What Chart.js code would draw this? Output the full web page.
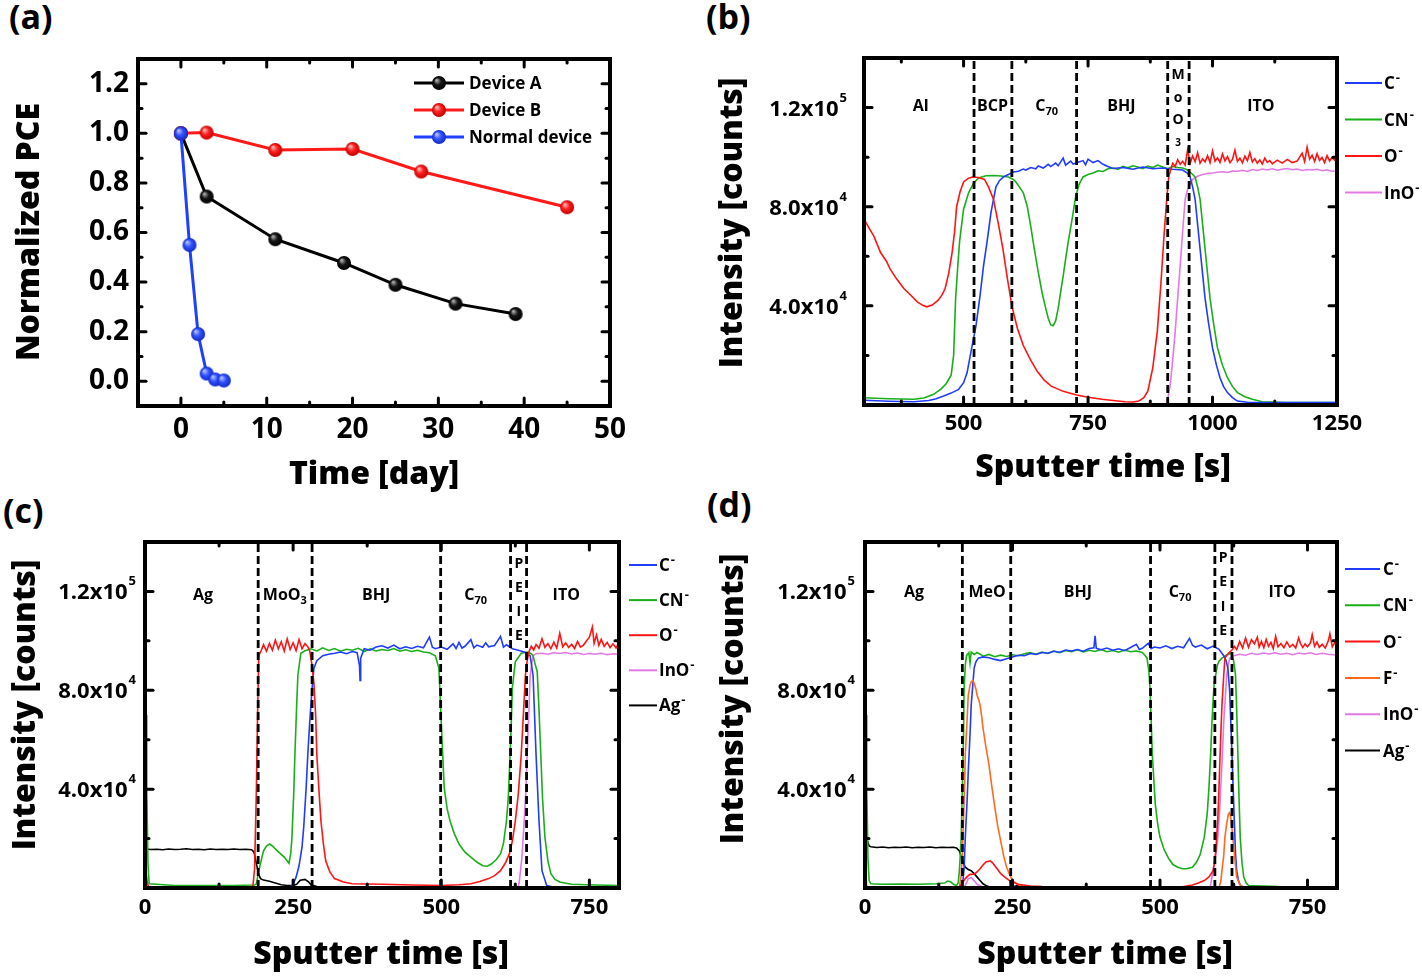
<!DOCTYPE html>
<html>
<head>
<meta charset="utf-8">
<script src="https://cdn.jsdelivr.net/npm/chart.js@4.4.1/dist/chart.umd.min.js"></script>
<style>
  body { margin: 0; background: #fff; width: 1422px; height: 976px; position: relative; overflow: hidden; }
  canvas { position: absolute; left: 0; top: 0; }
  .tag { position: absolute; font: bold 34px 'Open Sans'; line-height: 34px; color: #000; }
</style>
</head>
<body>
<div class="tag" style="left:9px;top:-1px">(a)</div>
<div class="tag" style="left:706px;top:-1px">(b)</div>
<div class="tag" style="left:3px;top:493px">(c)</div>
<div class="tag" style="left:707px;top:487px">(d)</div>
<canvas id="chartA" width="1422" height="976"></canvas>
<canvas id="chartB" width="1422" height="976"></canvas>
<canvas id="chartC" width="1422" height="976"></canvas>
<canvas id="chartD" width="1422" height="976"></canvas>
<script>
// ---- (a) normalized PCE vs time ----
var aDaysA = [0, 3, 11, 19, 25, 32, 39];
var aPceA = [1.0, 0.745, 0.573, 0.477, 0.389, 0.313, 0.271];
var aDaysB = [0, 3, 11, 20, 28, 45];
var aPceB = [1.0, 1.003, 0.933, 0.937, 0.846, 0.702];
var aDaysN = [0, 1, 2, 3, 4, 5];
var aPceN = [1.0, 0.55, 0.19, 0.031, 0.007, 0.003];
var aXLabels = [0, 10, 20, 30, 40, 50];
var aYLabels = [0, 0.2, 0.4, 0.6, 0.8, 1.0, 1.2];

// ---- (b) ToF-SIMS profile, Al device. [time s, counts /1000] ----
var bBounds = [521, 597, 727, 910, 953];
var bLayerNames = ['Al', 'BCP', 'C_70', 'BHJ', 'ITO'];
var bLayerAt = [414, 558, 667, 817, 1097];
var bStack = ['M', 'o', 'O', '3'];
var bC = [[300,1.9],[350,1.5],[400,1.3],[430,1.8],[445,2.5],[460,3.6],[475,4.8],[490,6.3],[500,9],[507,13],[515,21.6],[525,32],[533,44],[540,56],[548,67],[555,77.6],[565,88],[572,90.5],[580,92],[590,93],[600,94],[610,94.3],[620,95.2],[625,94.8],[635,95.8],[645,95.3],[650,96.4],[660,95.6],[670,97.1],[675,96.2],[685,97.6],[690,96.5],[700,99.6],[705,96.8],[715,98.4],[720,97.2],[730,97.9],[740,98.6],[745,96.9],[750,99.2],[760,97.8],[770,98.6],[780,97.1],[790,96.2],[800,95.4],[820,95.8],[840,95.1],[860,96],[880,95.3],[900,95.6],[920,95.1],[940,94.8],[950,93.5],[955,92],[960,88],[965,83],[970,73],[975,63],[980,53],[985,43],[992,33],[1000,23],[1008,16],[1015,11],[1022,7.5],[1030,5],[1040,3],[1050,1.6],[1070,1.1],[1100,1],[1250,1]];
var bCN = [[300,2.9],[350,2.5],[400,2.3],[420,2.8],[440,4.3],[455,6.5],[465,8.6],[475,12],[480,20],[484,43],[488,55],[492,66],[500,79],[510,85.6],[520,89.5],[530,91.6],[545,92.5],[560,92.6],[575,92.4],[590,92],[600,91],[605,90],[612,88],[620,85.6],[628,80],[635,72],[642,63],[650,53.6],[658,45],[665,39],[670,35],[675,32.3],[680,32],[685,34],[690,39],[695,45.6],[700,52],[705,59],[710,65.6],[718,75],[725,84],[732,89],[740,92],[750,93],[760,93.6],[770,94.5],[780,94.2],[790,95.3],[800,95.6],[810,95.1],[820,96.3],[830,95.7],[840,96.5],[850,96],[860,95.4],[870,96.4],[880,95.8],[890,96.8],[900,96],[910,95.3],[920,96.2],[930,95.8],[940,95.6],[948,95],[955,94],[960,93],[965,92],[970,88],[975,83],[980,73],[985,63],[990,53],[995,43],[1002,33],[1010,23],[1020,16],[1030,11],[1040,7.5],[1050,5],[1065,3.3],[1080,2.3],[1100,1.3],[1150,1],[1250,1]];
var bO = [[300,75],[310,71.5],[320,68],[333,61.6],[345,58],[352,55],[365,51],[380,47],[393,44.5],[407,41.6],[418,40.2],[426,39.6],[437,40.3],[449,42.3],[457,44.5],[463,47],[470,53],[477,61.6],[482,70],[486,80],[493,86],[500,90],[510,91.5],[518,92],[530,91.8],[542,91],[550,88],[560,83],[570,73],[579,63],[588,51],[597,40],[608,31],[620,24],[635,18],[648,13.6],[662,10],[676,7.6],[700,5.5],[727,4],[750,3.1],[778,2.3],[800,1.8],[824,1.3],[840,1.2],[852,1.6],[862,3],[870,5.6],[880,15],[889,29.6],[896,48],[903,69.6],[908,83],[912,92],[916,95],[920,97.5],[925,96.2],[930,99],[935,97.1],[940,98.3],[945,96.8],[950,103],[955,97.5],[960,100.5],[965,98.2],[970,101.8],[975,97.6],[980,99.3],[985,98.1],[990,100.6],[995,97.8],[1000,102.5],[1005,98.4],[1010,99.7],[1015,97.9],[1020,101.3],[1025,98.5],[1030,100.2],[1035,97.8],[1040,99.1],[1045,102.8],[1050,98.3],[1055,99.6],[1060,97.7],[1065,100.4],[1070,98.6],[1075,101.9],[1080,98.1],[1085,99.4],[1090,97.5],[1095,98.9],[1100,97.2],[1105,99.6],[1110,97.9],[1115,98.6],[1120,97.3],[1130,98.8],[1140,97.6],[1150,99.1],[1160,97.8],[1170,98.4],[1180,101.6],[1185,98.2],[1190,104],[1195,99.2],[1200,100.8],[1205,98.3],[1210,101.4],[1215,98.7],[1220,99.9],[1225,97.8],[1230,100.6],[1235,98.5],[1240,99.8],[1245,98.9],[1250,97.5]];
var bInO = [[908,0.3],[915,8],[920,18],[925,29.6],[930,43],[935,56],[940,70],[945,83],[950,87],[955,89],[960,91],[970,92.3],[980,93],[990,93.4],[1000,93.6],[1010,93.9],[1020,94.1],[1030,93.8],[1040,94.4],[1050,94.3],[1060,94.7],[1070,94.2],[1080,95],[1090,94.6],[1100,95.2],[1110,94.8],[1120,95.3],[1130,94.7],[1140,95.1],[1150,95.4],[1160,94.9],[1170,95.2],[1180,94.6],[1190,95],[1200,94.8],[1210,95.1],[1220,94.5],[1230,94.9],[1240,94.3],[1250,94.5]];

// ---- (c) ToF-SIMS profile, Ag / MoO3 device ----
var cBounds = [191, 282, 499, 617, 644];
var cLayerNames = ['Ag', 'MoO_3', 'BHJ', 'C_70', 'ITO'];
var cLayerAt = [98, 236, 390, 558, 711];
var cStack = ['P', 'E', 'I', 'E'];
var cC = [[0,0.5],[100,0.4],[200,0.3],[245,0.5],[250,1.5],[255,4.4],[260,9],[265,16.5],[268,25],[272,40.6],[275,55],[278,67],[282,80.8],[285,88.8],[290,92],[300,94],[310,94.6],[320,95],[330,95.5],[340,94.8],[350,95.7],[358,95.2],[362,90],[363,84],[364,93],[370,96.8],[380,96.2],[390,97.5],[400,98],[410,97.1],[420,98.3],[430,96.8],[440,97.6],[450,96.9],[460,97.8],[470,97.2],[480,101.5],[485,97.4],[490,96.8],[500,97.5],[510,96.6],[520,98.8],[525,96.9],[530,99.4],[535,97.1],[540,97.8],[550,100.5],[555,97.2],[560,98.3],[570,97.4],[575,99.2],[580,97.6],[590,98.1],[600,101.8],[605,97.5],[610,98.4],[620,96.8],[630,96.2],[640,95.5],[650,94],[655,86],[660,54],[665,27],[670,7],[678,1],[690,0.3],[800,0.3]];
var cCN = [[0,95.5],[2,70],[3,40],[5,10],[7,1.7],[50,1],[100,1],[150,1],[185,1.2],[188,1.7],[192,7],[196,11],[200,15],[205,17],[210,17.8],[215,17],[220,15.8],[228,14],[235,12.5],[243,10],[246,14],[248,20.5],[251,38],[253,54],[256,74],[258,86],[263,95],[270,96],[280,96.8],[290,95.9],[300,97.2],[310,96.1],[320,96.9],[330,95.8],[340,96.6],[350,96.2],[360,97],[370,95.7],[380,96.8],[390,95.9],[400,96.5],[410,96.1],[420,96.9],[430,95.8],[440,96.4],[450,95.7],[460,96.2],[470,95.5],[480,95.2],[490,94],[496,89],[500,67],[505,40.6],[510,32],[515,27],[522,22],[530,17.8],[540,14.5],[550,12.5],[560,10.5],[570,9],[578,8.8],[585,9.8],[593,11.5],[600,13.8],[605,18],[610,27],[613,36],[615,47],[618,65],[620,81],[625,91.5],[635,95],[645,95.5],[652,94.8],[655,94],[658,91],[662,87.5],[665,72],[668,54],[671,36],[675,20.5],[680,11],[685,5.8],[692,3.5],[700,2.4],[720,1.5],[760,1.2],[800,1]];
var cO = [[0,0.5],[1,4],[2,5.8],[4,2],[6,0.4],[100,0.3],[182,0.4],[185,8],[188,40],[190,70],[192,94],[196,96],[200,98.5],[205,95.8],[210,99],[215,96.2],[220,100.3],[225,96.8],[230,99.6],[235,95.9],[240,100.8],[245,96.5],[250,99.2],[255,96],[260,100.5],[265,96.8],[270,98.9],[275,97.5],[278,96],[282,90],[285,83],[288,70],[290,54],[294,38],[297,27],[301,18],[305,11],[312,6.5],[320,3.8],[335,2.4],[350,1.7],[400,1.5],[450,1.2],[500,1],[530,1.3],[550,1.7],[565,2.6],[580,3.8],[590,5],[600,7],[608,10],[615,13.8],[620,19],[625,27],[630,38],[635,54],[639,72],[642,86],[645,92],[648,95.5],[652,97.8],[656,96.3],[660,98.5],[665,97],[670,100.8],[675,97.4],[680,98.9],[685,96.8],[690,99.5],[695,97.1],[700,103],[705,97.6],[710,99.2],[715,97.3],[720,98.6],[725,96.9],[730,99.8],[735,97.5],[740,98.3],[745,99.9],[750,101.5],[755,105.6],[758,99],[762,102.4],[766,98.2],[770,100.6],[775,97.8],[780,99.4],[785,97.3],[790,98.8],[795,97.1],[800,99.5]];
var cInO = [[0,0.3],[1,2.4],[3,0.5],[5,0.2],[300,0.2],[630,0.5],[632,3],[636,12],[640,27],[643,40],[645,54],[648,72],[650,86],[655,94],[660,94.8],[670,95],[680,94.6],[690,95.2],[700,94.9],[710,95.3],[720,94.7],[730,95.1],[740,94.5],[750,94.9],[760,94.6],[770,95],[780,94.4],[790,94.8],[800,94.6]];
var cAg = [[0,15.8],[10,15.6],[20,15.7],[30,15.5],[40,15.8],[50,15.6],[60,15.7],[70,15.9],[80,15.6],[90,15.7],[100,15.5],[110,15.8],[120,15.6],[130,15.7],[140,15.6],[150,15.8],[160,15.6],[170,15.7],[180,15.5],[184,14.5],[188,9.8],[192,5.5],[195,3.8],[200,3.2],[210,2.7],[220,2],[230,1.3],[240,1],[250,1],[256,1.5],[262,3.1],[270,3.5],[276,2.5],[280,1.3],[290,0.6],[300,0.5],[400,0.4],[500,0.3],[800,0.3]];

// ---- (d) ToF-SIMS profile, Ag / MeO device ----
var dBounds = [165, 247, 484, 593, 622];
var dLayerNames = ['Ag', 'MeO', 'BHJ', 'C_70', 'ITO'];
var dLayerAt = [83, 207, 361, 534, 707];
var dStack = ['P', 'E', 'I', 'E'];
var dC = [[0,0.3],[100,0.3],[160,0.3],[165,0.6],[168,8],[170,20.5],[173,35],[175,47],[178,62],[180,74],[183,83],[185,89],[188,91.5],[192,93],[200,93.5],[210,93.2],[220,92.5],[230,92],[240,92.8],[250,93.5],[260,94.2],[270,94],[280,94.9],[290,94.5],[300,95.3],[310,95],[320,95.8],[330,95.4],[340,96.3],[350,95.9],[360,96.5],[370,95.8],[380,96.9],[388,97.2],[390,102],[392,97],[400,96.4],[410,97.1],[420,96.2],[430,96.8],[440,96],[450,97.3],[460,98.6],[465,96.5],[470,97],[480,99],[485,96.8],[490,97.5],[500,97.1],[510,98],[520,96.9],[530,97.8],[540,97.2],[550,101],[555,98.2],[560,97.5],[570,98.3],[580,96.8],[590,97.9],[600,96.6],[608,94],[612,92],[615,89],[618,80],[620,67],[622,54],[624,40.6],[626,27],[628,13.8],[630,7],[633,3],[636,1.2],[640,0.5],[800,0.3]];
var dCN = [[0,93],[2,70],[3,40],[5,12],[7,3],[10,1.7],[30,1.5],[60,1.6],[90,1.5],[120,1.7],[135,2],[140,2.8],[145,2.5],[150,1.5],[155,1],[158,2],[160,7],[163,20],[165,40],[167,62],[168,80.8],[170,90],[172,94],[176,95.2],[178,91],[180,95.5],[185,94.5],[190,95.3],[195,94.6],[200,93.8],[210,94.5],[220,93.6],[230,94.2],[240,93.7],[250,94.4],[260,94],[270,94.8],[280,95.3],[290,94.6],[300,95.5],[310,94.9],[320,95.9],[330,95.2],[340,96.1],[350,95.6],[360,96.4],[370,95.5],[380,96.2],[390,95.7],[400,96.5],[410,95.6],[420,96.1],[430,95.4],[440,96.3],[450,95.6],[460,95.9],[470,95.3],[475,94],[478,93],[481,88],[483,81],[485,68],[487,54],[490,42],[492,34],[496,26],[500,20.5],[507,15.5],[515,11.8],[522,9.5],[530,8.4],[538,7.8],[545,7.8],[555,8.4],[562,10.5],[568,13.5],[575,20.5],[580,30],[583,40.6],[586,55],[588,67],[590,76],[592,83.5],[595,87],[597,90],[600,91.8],[605,93],[612,94.2],[620,95],[624,93],[626,90],[628,86],[630,72],[632,54],[634,36],[636,20.5],[639,10],[642,4.4],[646,2],[650,1],[700,0.6],[800,0.5]];
var dO = [[0,0.3],[150,0.3],[160,0.6],[165,2],[170,3.8],[175,5],[178,5.5],[185,5.6],[190,6.5],[195,7.8],[200,9.3],[205,10.5],[212,11],[216,10.3],[220,9],[225,7.5],[230,5.8],[238,4.2],[245,3],[252,2.2],[260,1.5],[280,0.8],[300,0.6],[500,0.4],[540,0.6],[555,1.2],[565,2],[575,3],[583,4.5],[590,7],[593,11],[595,16.5],[598,28],[600,40.6],[602,55],[605,74],[608,86],[610,93],[616,95],[622,96.3],[626,97.8],[630,96.5],[635,99.8],[640,97.1],[645,101.2],[650,97.4],[655,100.5],[660,98.8],[665,101.5],[668,97.5],[672,99.8],[676,97.2],[680,100.6],[684,97.8],[688,99.4],[692,96.9],[696,101.8],[700,97.6],[705,98.9],[710,97.2],[715,99.6],[720,97.5],[725,98.6],[730,97.1],[735,101.2],[738,99],[742,97.3],[746,98.8],[750,97.6],[755,99.2],[758,102.5],[762,97.8],[766,99.5],[770,97.4],[775,98.6],[780,97.1],[785,99.8],[788,102.8],[792,97.6],[796,99.2],[800,98.1]];
var dF = [[0,0.2],[155,0.2],[160,0.5],[163,5],[165,13.8],[168,35],[170,54],[173,68],[175,78],[178,82],[180,83.5],[183,84],[185,82.8],[188,80.5],[190,78],[193,76],[195,74],[198,69],[200,64.7],[205,57],[210,50],[215,41],[220,32.6],[225,25],[230,19],[235,13],[240,8.4],[245,5.5],[250,3],[258,1.5],[265,0.8],[300,0.3],[600,0.3],[603,2.5],[605,7],[608,13],[610,20.5],[613,26],[616,30],[618,30.5],[620,28.5],[622,24],[625,16.5],[628,9],[630,4.4],[635,1.5],[640,0.3],[800,0.2]];
var dInO = [[0,11],[1,6],[3,1],[5,0.2],[165,0.2],[170,1],[175,3.8],[180,4.2],[185,3],[190,1.5],[200,0.3],[585,0.3],[590,7],[595,14],[598,20.5],[601,31],[603,40.6],[606,55],[608,67],[611,78],[613,86],[618,93],[625,94],[635,94.6],[645,94.2],[655,95],[665,94.5],[675,95.1],[685,94.7],[695,95.2],[705,94.6],[715,95],[725,94.4],[735,95.1],[745,94.7],[755,95.2],[765,94.5],[775,95],[785,94.6],[800,94.3]];
var dAg = [[0,26],[2,22],[4,19],[7,17],[10,16.7],[20,16.4],[30,16.6],[40,16.3],[50,16.5],[60,16.4],[70,16.6],[80,16.3],[90,16.5],[100,16.4],[110,16.6],[120,16.3],[130,16.5],[140,16.4],[150,16.5],[155,16.2],[160,15],[165,11],[170,8.4],[175,7.5],[180,7],[185,5.8],[190,4.4],[195,3],[200,1.7],[205,1],[210,0.5],[250,0.4],[258,1],[262,1.2],[268,0.6],[280,0.3],[800,0.3]];

var profileYTicks = [40000, 80000, 120000];
var profileYMinor = [20000, 60000, 100000];

var FONT = "'Open Sans'";
var COL = { C: '#1f3cff', CN: '#1aae1a', O: '#ff1414', InO: '#e27ae6', F: '#ff6a1f', Ag: '#000000' };

function pts(arr) {
  return arr.map(function (p) { return { x: p[0], y: p[1] * 1000 }; });
}
function zip(xs, ys) {
  return xs.map(function (x, i) { return { x: x, y: ys[i] }; });
}

// shaded ball markers like in the original
function sphere(hi, base, dark, r) {
  var c = document.createElement('canvas');
  c.width = c.height = 2 * r + 2;
  var g = c.getContext('2d');
  var m = r + 1;
  var grad = g.createRadialGradient(m - r * 0.35, m - r * 0.4, r * 0.1, m, m, r);
  grad.addColorStop(0, hi);
  grad.addColorStop(0.45, base);
  grad.addColorStop(1, dark);
  g.fillStyle = grad;
  g.beginPath(); g.arc(m, m, r, 0, Math.PI * 2); g.fill();
  return c;
}
var ballA = sphere('#a8a8a8', '#161616', '#000', 7);
var ballB = sphere('#ffb4b4', '#ff2020', '#c00000', 7);
var ballN = sphere('#b0bcff', '#3355ff', '#1228c8', 7);

// text with "_sub" subscript part
function richText(ctx, text, x, y, size, weight) {
  var parts = text.split('_');
  var subSize = Math.round(size * 0.68);
  ctx.font = weight + ' ' + size + 'px ' + FONT;
  var w1 = ctx.measureText(parts[0]).width;
  var w2 = 0;
  if (parts[1]) { ctx.font = weight + ' ' + subSize + 'px ' + FONT; w2 = ctx.measureText(parts[1]).width; }
  var x0 = x - (w1 + w2) / 2;
  ctx.textAlign = 'left'; ctx.textBaseline = 'alphabetic';
  ctx.font = weight + ' ' + size + 'px ' + FONT;
  ctx.fillText(parts[0], x0, y + size * 0.36);
  if (parts[1]) {
    ctx.font = weight + ' ' + subSize + 'px ' + FONT;
    ctx.fillText(parts[1], x0 + w1, y + size * 0.36 + subSize * 0.35);
  }
}

var framePlugin = {
  id: 'frame',
  afterDraw: function (chart, args, o) {
    var ctx = chart.ctx, a = chart.chartArea, xs = chart.scales.x, ys = chart.scales.y;
    ctx.save();
    ctx.fillStyle = '#000'; ctx.strokeStyle = '#000';

    // inward ticks on all four sides
    ctx.lineWidth = 3; ctx.lineCap = 'round';
    function seg(x1, y1, x2, y2) { ctx.beginPath(); ctx.moveTo(x1, y1); ctx.lineTo(x2, y2); ctx.stroke(); }
    [[o.xMajor, 8], [o.xMinor, 4]].forEach(function (t) {
      t[0].forEach(function (v) {
        var px = xs.getPixelForValue(v);
        seg(px, a.bottom, px, a.bottom - t[1]); seg(px, a.top, px, a.top + t[1]);
      });
    });
    [[o.yMajor, 8], [o.yMinor, 4]].forEach(function (t) {
      t[0].forEach(function (v) {
        var py = ys.getPixelForValue(v);
        seg(a.left, py, a.left + t[1], py); seg(a.right, py, a.right - t[1], py);
      });
    });
    ctx.lineCap = 'butt'; ctx.lineWidth = 4;
    ctx.strokeRect(a.left, a.top, a.right - a.left, a.bottom - a.top);

    // y tick labels as m.m x 10^e
    if (o.sciLabels) {
      o.sciLabels.forEach(function (v) {
        var e = Math.floor(Math.log10(v));
        var man = (v / Math.pow(10, e)).toFixed(1) + 'x10';
        var py = ys.getPixelForValue(v);
        var right = a.left - o.sciGap;
        ctx.textAlign = 'right'; ctx.textBaseline = 'alphabetic';
        ctx.font = 'bold 13px ' + FONT;
        var ws = ctx.measureText(String(e)).width;
        ctx.fillText(String(e), right, py - 6);
        ctx.font = 'bold 22px ' + FONT;
        ctx.fillText(man, right - ws - 1, py + 8);
      });
    }

    // axis titles
    ctx.font = '800 32px ' + FONT;
    ctx.textAlign = 'center'; ctx.textBaseline = 'middle';
    ctx.fillText(o.xTitle[0], o.xTitle[1], o.xTitle[2]);
    ctx.save();
    ctx.translate(o.yTitle[1], o.yTitle[2]); ctx.rotate(-Math.PI / 2);
    ctx.fillText(o.yTitle[0], 0, 0);
    ctx.restore();

    // layer names
    if (o.layers) {
      var ly = ys.getPixelForValue(o.layers.y);
      o.layers.names.forEach(function (n, i) {
        richText(ctx, n, xs.getPixelForValue(o.layers.at[i]), ly, 16, 'bold');
      });
      var sx = xs.getPixelForValue(o.stack.at);
      o.stack.chars.forEach(function (ch, i) {
        var small = /[a-z0-9]/.test(ch);
        ctx.font = 'bold ' + (ch === '3' ? 10 : 14) + 'px ' + FONT;
        ctx.textAlign = 'center'; ctx.textBaseline = 'middle';
        ctx.fillText(ch, sx, a.top + o.stack.top + i * o.stack.step + (small ? 1 : 0));
      });
    }

    // legends
    if (o.ionLegend) {
      var L = o.ionLegend;
      L.items.forEach(function (it, i) {
        var y = L.y0 + i * L.dy;
        ctx.strokeStyle = COL[it]; ctx.lineWidth = 2;
        seg(L.x0, y, L.x1, y);
        ctx.textAlign = 'left'; ctx.textBaseline = 'alphabetic';
        ctx.font = 'bold 17px ' + FONT;
        ctx.fillText(it, L.xt, y + 6);
        var w = ctx.measureText(it).width;
        ctx.font = 'bold 13px ' + FONT;
        ctx.fillText('-', L.xt + w + 1, y - 1);
      });
    }
    if (o.ballLegend) {
      var B = o.ballLegend;
      B.items.forEach(function (it, i) {
        var y = B.y0 + i * B.dy;
        ctx.strokeStyle = it.color; ctx.lineWidth = 3;
        seg(B.x0, y, B.x1, y);
        ctx.drawImage(it.ball, (B.x0 + B.x1) / 2 - it.ball.width / 2, y - it.ball.height / 2);
        ctx.font = 'bold 17px ' + FONT;
        ctx.textAlign = 'left'; ctx.textBaseline = 'middle';
        ctx.fillStyle = '#000';
        ctx.fillText(it.label, B.xt, y + 1);
      });
    }
    ctx.restore();
  }
};

function baseScales(cfg) {
  return {
    x: {
      type: 'linear', min: cfg.xMin, max: cfg.xMax, offset: false,
      afterBuildTicks: function (s) { s.ticks = cfg.xLabels.map(function (v) { return { value: v }; }); },
      afterFit: function (s) { s.height = cfg.xH; },
      grid: { display: false, drawTicks: false }, border: { display: false },
      ticks: { display: true, autoSkip: false, maxRotation: 0, padding: cfg.xPad, color: '#000',
        font: { family: 'Open Sans', weight: 'bold', size: cfg.xFont },
        callback: function (v) { return String(v); } }
    },
    y: {
      type: 'linear', min: cfg.yMin, max: cfg.yMax,
      afterBuildTicks: cfg.yLabels ? function (s) { s.ticks = cfg.yLabels.map(function (v) { return { value: v }; }); } : undefined,
      afterFit: function (s) { s.width = cfg.yW; },
      grid: { display: false, drawTicks: false }, border: { display: false },
      ticks: { display: !!cfg.yLabels, padding: 9, color: '#000',
        font: { family: 'Open Sans', weight: 'bold', size: 28 },
        callback: function (v) { return v.toFixed(1); } }
    }
  };
}

// ---------- chart (a) ----------
new Chart(document.getElementById('chartA'), {
  type: 'line',
  data: {
    datasets: [
      { label: 'Normal device', data: zip(aDaysN, aPceN), borderColor: '#2040ff', borderWidth: 3, pointStyle: ballN },
      { label: 'Device B', data: zip(aDaysB, aPceB), borderColor: '#ff1a1a', borderWidth: 3, pointStyle: ballB },
      { label: 'Device A', data: zip(aDaysA, aPceA), borderColor: '#000', borderWidth: 3, pointStyle: ballA }
    ]
  },
  options: {
    responsive: false, animation: false, devicePixelRatio: 1,
    layout: { padding: { left: 0, top: 59, right: 812, bottom: 480 } },
    plugins: {
      legend: { display: false }, tooltip: { enabled: false },
      frame: {
        xMajor: [0, 10, 20, 30, 40], xMinor: [5, 15, 25, 35, 45],
        yMajor: [0, 0.2, 0.4, 0.6, 0.8, 1.0, 1.2], yMinor: [0.1, 0.3, 0.5, 0.7, 0.9, 1.1],
        xTitle: ['Time [day]', 374, 475], yTitle: ['Normalized PCE', 30, 232],
        ballLegend: { x0: 414, x1: 464, xt: 469, y0: 83, dy: 27, items: [
          { label: 'Device A', color: '#000', ball: ballA },
          { label: 'Device B', color: '#ff1a1a', ball: ballB },
          { label: 'Normal device', color: '#2040ff', ball: ballN }] }
      }
    },
    scales: baseScales({ xMin: -5, xMax: 50, xLabels: aXLabels, xH: 90, xPad: 7, xFont: 28,
      yMin: -0.1, yMax: 1.3, yLabels: aYLabels, yW: 138 })
  },
  plugins: [framePlugin]
});

// ---------- charts (b), (c), (d) ----------
function profileChart(id, cfg) {
  var sets = [];
  cfg.bounds.forEach(function (b) {
    sets.push({ data: [{ x: b, y: 0 }, { x: b, y: 140000 }], borderColor: '#000', borderWidth: 2.8, borderDash: [8, 4], pointRadius: 0 });
  });
  cfg.series.forEach(function (s) {
    sets.push({ label: s[0], data: pts(s[1]), borderColor: COL[s[0]], borderWidth: 1.6, pointRadius: 0 });
  });
  new Chart(document.getElementById(id), {
    type: 'line',
    data: { datasets: sets },
    options: {
      responsive: false, animation: false, devicePixelRatio: 1,
      layout: { padding: cfg.pad },
      plugins: {
        legend: { display: false }, tooltip: { enabled: false },
        frame: {
          xMajor: cfg.xLabels, xMinor: cfg.xMinor,
          yMajor: profileYTicks, yMinor: profileYMinor,
          sciLabels: profileYTicks, sciGap: cfg.sciGap,
          xTitle: cfg.xTitle, yTitle: cfg.yTitle,
          layers: { names: cfg.names, at: cfg.at, y: cfg.labelY },
          stack: cfg.stack,
          ionLegend: cfg.legend
        }
      },
      scales: baseScales({ xMin: cfg.xMin, xMax: cfg.xMax, xLabels: cfg.xLabels, xH: cfg.xH, xPad: cfg.xPad, xFont: 22,
        yMin: 0, yMax: 140000, yLabels: null, yW: cfg.yW })
    },
    plugins: [framePlugin]
  });
}

profileChart('chartB', {
  pad: { left: 700, top: 58, right: 85, bottom: 481 }, yW: 164, xH: 90, xPad: 6,
  xMin: 300, xMax: 1250, xLabels: [500, 750, 1000, 1250], xMinor: [375, 625, 875, 1125],
  bounds: bBounds, names: bLayerNames, at: bLayerAt, labelY: 121000,
  stack: { chars: bStack, at: 931, top: 17, step: 22.5 },
  sciGap: 17,
  xTitle: ['Sputter time [s]', 1103, 468], yTitle: ['Intensity [counts]', 733, 223],
  legend: { x0: 1345, x1: 1382, xt: 1384, y0: 83, dy: 36.5, items: ['C', 'CN', 'O', 'InO'] },
  series: [['O', bO], ['C', bC], ['CN', bCN], ['InO', bInO]]
});

profileChart('chartC', {
  pad: { left: 0, top: 542, right: 803, bottom: 2 }, yW: 145, xH: 86, xPad: 7,
  xMin: 0, xMax: 800, xLabels: [0, 250, 500, 750], xMinor: [125, 375, 625],
  bounds: cBounds, names: cLayerNames, at: cLayerAt, labelY: 119000,
  stack: { chars: cStack, at: 631, top: 22, step: 24 },
  sciGap: 9,
  xTitle: ['Sputter time [s]', 381, 955], yTitle: ['Intensity [counts]', 26, 705],
  legend: { x0: 629, x1: 657, xt: 659, y0: 565, dy: 35.1, items: ['C', 'CN', 'O', 'InO', 'Ag'] },
  series: [['O', cO], ['C', cC], ['CN', cCN], ['InO', cInO], ['Ag', cAg]]
});

profileChart('chartD', {
  pad: { left: 710, top: 542, right: 85, bottom: 2 }, yW: 155, xH: 86, xPad: 7,
  xMin: 0, xMax: 800, xLabels: [0, 250, 500, 750], xMinor: [125, 375, 625],
  bounds: dBounds, names: dLayerNames, at: dLayerAt, labelY: 120000,
  stack: { chars: dStack, at: 607, top: 16, step: 24.3 },
  sciGap: 10,
  xTitle: ['Sputter time [s]', 1105, 955], yTitle: ['Intensity [counts]', 734, 699],
  legend: { x0: 1345, x1: 1380, xt: 1383, y0: 569, dy: 36.3, items: ['C', 'CN', 'O', 'F', 'InO', 'Ag'] },
  series: [['O', dO], ['F', dF], ['C', dC], ['CN', dCN], ['InO', dInO], ['Ag', dAg]]
});
</script>
</body>
</html>
